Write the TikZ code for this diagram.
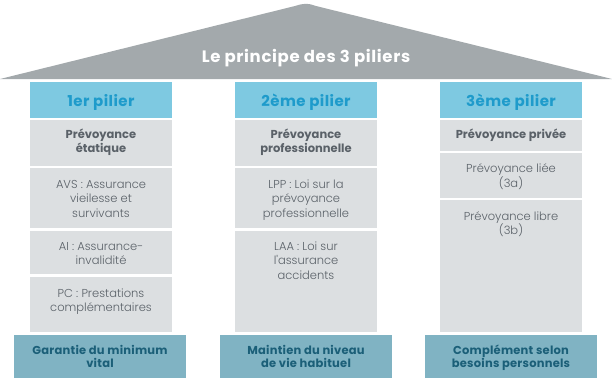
\documentclass[tikz,border=0pt]{standalone}
\usepackage{fontspec}
\setmainfont{Poppins}[Ligatures=TeXOff]
\newfontfamily\lightfont{Poppins}[UprightFont=* Light, Ligatures=TeXOff]
\definecolor{roofc}{HTML}{A3A9AC}
\definecolor{hdrc}{HTML}{7EC9E1}
\definecolor{hdrt}{HTML}{1E9BCB}
\definecolor{cellc}{HTML}{DCDFE1}
\definecolor{cellt}{HTML}{5A6168}
\definecolor{footc}{HTML}{80B3C3}
\definecolor{foott}{HTML}{1B5F78}
\newcommand\firstln{\rule{0pt}{12pt}}
\tikzset{
  roof/.style={fill=roofc},
  titletxt/.style={text=white, font=\fontsize{16.5}{18}\selectfont\bfseries\addfontfeature{LetterSpace=4}, inner sep=0pt, anchor=base},
  hdrbox/.style={fill=hdrc, inner sep=0pt},
  hdrtxt/.style={text=hdrt, font=\fontsize{15}{16}\selectfont\bfseries\addfontfeature{LetterSpace=3}, inner sep=0pt, anchor=base},
  cellbox/.style={fill=cellc, inner sep=0pt},
  celltxt/.style={text=cellt, font=\lightfont\fontsize{11.5}{14.5}\selectfont, align=center, anchor=north, inner sep=0pt},
  cellbold/.style={celltxt, font=\fontsize{11.5}{14.5}\selectfont\bfseries},
  footbox/.style={fill=footc, inner sep=0pt},
  foottxt/.style={text=foott, font=\fontsize{11.5}{13.5}\selectfont\bfseries\addfontfeature{LetterSpace=2}, align=center, anchor=north, inner sep=0pt},
}
\begin{document}
\begin{tikzpicture}[x=1pt,y=-1pt]
\useasboundingbox (0,0) rectangle (612,386);
% roof
\fill[roof] (0,79) -- (295,6) .. controls (305,3) and (307,3) .. (316,6) -- (612,79) -- cycle;
\node[titletxt] (title) at (306,62) {Le principe des 3 piliers};

% column 1
\path[hdrbox] (30,82) rectangle (172,118);
\node[hdrtxt] (h1) at (101,106) {1er pilier};
\path[cellbox] (30,120) rectangle (172,166);
\node[cellbold] (c11) at (101,126) {\firstln Prévoyance\\étatique};
\path[cellbox] (30,168) rectangle (172,228);
\node[celltxt] (c12) at (101,176) {\firstln AVS : Assurance\\vieilesse et\\survivants};
\path[cellbox] (30,231) rectangle (172,274);
\node[celltxt] (c13) at (101,238) {\firstln AI : Assurance-\\invalidité};
\path[cellbox] (30,277) rectangle (172,332);
\node[celltxt] (c14) at (101,285) {\firstln PC : Prestations\\complémentaires};
\path[footbox] (14,335) rectangle (186,378);
\node[foottxt] (f1) at (100,342) {\firstln Garantie du minimum\\vital};

% column 2
\path[hdrbox] (235,82) rectangle (377,118);
\node[hdrtxt] (h2) at (306,106) {2ème pilier};
\path[cellbox] (235,120) rectangle (377,166);
\node[cellbold] (c21) at (306,126) {\firstln Prévoyance\\professionnelle};
\path[cellbox] (235,168) rectangle (377,228);
\node[celltxt] (c22) at (306,176) {\firstln LPP : Loi sur la\\prévoyance\\professionnelle};
\path[cellbox] (235,231) rectangle (377,332);
\node[celltxt] (c23) at (306,238) {\firstln LAA : Loi sur\\l'assurance\\accidents};
\path[footbox] (220,335) rectangle (392,378);
\node[foottxt] (f2) at (306,342) {\firstln Maintien du niveau\\de vie habituel};

% column 3
\path[hdrbox] (440,82) rectangle (582,118);
\node[hdrtxt] (h3) at (511,106) {3ème pilier};
\path[cellbox] (440,120) rectangle (582,151);
\node[cellbold] (c31) at (511,126) {\firstln Prévoyance privée};
\path[cellbox] (440,153) rectangle (582,198);
\node[celltxt] (c32) at (511,160.5) {\firstln Prévoyance liée\\(3a)};
\path[cellbox] (440,200) rectangle (582,332);
\node[celltxt] (c33) at (511,208) {\firstln Prévoyance libre\\(3b)};
\path[footbox] (425,335) rectangle (597,378);
\node[foottxt] (f3) at (511,342) {\firstln Complément selon\\besoins personnels};
\end{tikzpicture}
\end{document}
